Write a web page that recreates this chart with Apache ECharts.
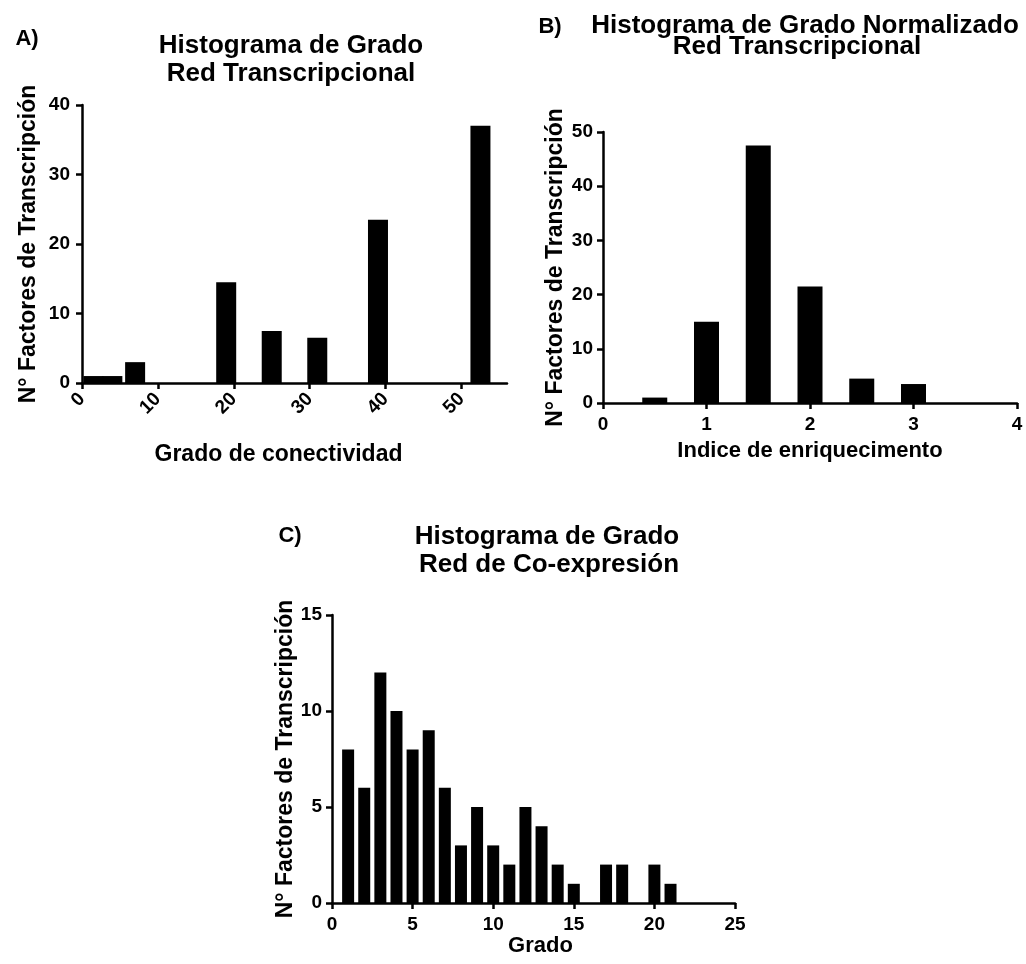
<!DOCTYPE html>
<html>
<head>
<meta charset="utf-8">
<script src="https://cdn.jsdelivr.net/npm/echarts@6/dist/echarts.min.js"></script>
<style>
  html, body { margin: 0; padding: 0; background: #ffffff; }
  #chart { width: 1026px; height: 964px; }
</style>
</head>
<body>
<div id="chart"></div>
<script>
const FONT = '"Liberation Sans", Arial, Helvetica, sans-serif';

// A) Histograma de grado, red transcripcional
const degreeBins   = [1.5, 4, 7, 19, 25, 31, 39, 52.5];
const degreeCounts = [1, 1, 3, 14.5, 7.5, 6.5, 23.5, 37];
const degreeTicks  = [0, 10, 20, 30, 40, 50];

// B) Histograma de grado normalizado, red transcripcional
const enrichBins   = [0.5, 1, 1.5, 2, 2.5, 3];
const enrichCounts = [1, 15, 47.5, 21.5, 4.5, 3.5];

// C) Histograma de grado, red de co-expresión
const coexpBins   = [1, 2, 3, 4, 5, 6, 7, 8, 9, 10, 11, 12, 13, 14, 15, 16, 17, 18, 19, 20, 21];
const coexpCounts = [8, 6, 12, 10, 8, 9, 6, 3, 5, 3, 2, 5, 4, 2, 1, 0, 2, 2, 0, 2, 1];

const yName = 'N° Factores de Transcripción';

const axisLine = { show: true, lineStyle: { color: '#000', width: 2.5 } };
const axisTick = { show: true, inside: false, length: 6, lineStyle: { color: '#000', width: 2.5 } };
function labelStyle(size) {
  return { color: '#000', fontFamily: FONT, fontWeight: 'bold', fontSize: size };
}
function nameStyle(size, padding) {
  const s = { color: '#000', fontFamily: FONT, fontWeight: 'bold', fontSize: size };
  if (padding) s.padding = padding;
  return s;
}
function pairs(xs, ys) { return xs.map((x, i) => [x, ys[i]]); }

function text(x, y, str, size) {
  return {
    type: 'text', x: x, y: y,
    style: {
      text: str, fill: '#000', textAlign: 'center', textVerticalAlign: 'middle',
      font: 'bold ' + size + 'px ' + FONT
    }
  };
}

const chart = echarts.init(document.getElementById('chart'));

chart.setOption({
  backgroundColor: '#ffffff',
  animation: false,
  graphic: [
    text(27, 39, 'A)', 22),
    text(291, 46, 'Histograma de Grado', 26),
    text(291, 74, 'Red Transcripcional', 26),
    text(550, 27, 'B)', 22),
    text(805, 26, 'Histograma de Grado Normalizado', 26),
    text(797, 47, 'Red Transcripcional', 26),
    text(290, 536, 'C)', 22),
    text(547, 537, 'Histograma de Grado', 26),
    text(549, 565, 'Red de Co-expresión', 26)
  ],
  grid: [
    { left: 82, right: 519, top: 105, bottom: 581 },
    { left: 603, right: 9, top: 132, bottom: 561 },
    { left: 332, right: 291, top: 615, bottom: 61 }
  ],
  xAxis: [
    {
      gridIndex: 0, type: 'value', min: 0, max: 56,
      name: 'Grado de conectividad', nameLocation: 'middle', nameGap: 60,
      nameTextStyle: nameStyle(23, [0, 32, 0, 0]),
      axisLine: axisLine,
      axisTick: Object.assign({}, axisTick, { customValues: degreeTicks }),
      axisLabel: Object.assign(labelStyle(19), { customValues: degreeTicks, rotate: 45, margin: 13 }),
      splitLine: { show: false }
    },
    {
      gridIndex: 1, type: 'value', min: 0, max: 4, interval: 1,
      name: 'Indice de enriquecimento', nameLocation: 'middle', nameGap: 37,
      nameTextStyle: nameStyle(22),
      axisLine: axisLine, axisTick: axisTick,
      axisLabel: Object.assign(labelStyle(19), { margin: 12 }),
      splitLine: { show: false }
    },
    {
      gridIndex: 2, type: 'value', min: 0, max: 25, interval: 5,
      name: 'Grado', nameLocation: 'middle', nameGap: 28,
      nameTextStyle: nameStyle(22, [0, 0, 0, 14]),
      axisLine: axisLine, axisTick: axisTick,
      axisLabel: Object.assign(labelStyle(19), { margin: 12 }),
      splitLine: { show: false }
    }
  ],
  yAxis: [
    {
      gridIndex: 0, type: 'value', min: 0, max: 40, interval: 10,
      name: yName, nameLocation: 'middle', nameGap: 42,
      nameTextStyle: nameStyle(23),
      axisLine: axisLine, axisTick: axisTick,
      axisLabel: Object.assign(labelStyle(19), { margin: 12 }),
      splitLine: { show: false }
    },
    {
      gridIndex: 1, type: 'value', min: 0, max: 50, interval: 10,
      name: yName, nameLocation: 'middle', nameGap: 36,
      nameTextStyle: nameStyle(23),
      axisLine: axisLine, axisTick: axisTick,
      axisLabel: Object.assign(labelStyle(19), { margin: 10 }),
      splitLine: { show: false }
    },
    {
      gridIndex: 2, type: 'value', min: 0, max: 15, interval: 5,
      name: yName, nameLocation: 'middle', nameGap: 35,
      nameTextStyle: nameStyle(23),
      axisLine: axisLine, axisTick: axisTick,
      axisLabel: Object.assign(labelStyle(19), { margin: 10 }),
      splitLine: { show: false }
    }
  ],
  series: [
    {
      type: 'bar', xAxisIndex: 0, yAxisIndex: 0, barWidth: 20,
      itemStyle: { color: '#000' }, data: pairs(degreeBins, degreeCounts)
    },
    {
      type: 'bar', xAxisIndex: 1, yAxisIndex: 1, barWidth: 25,
      itemStyle: { color: '#000' }, data: pairs(enrichBins, enrichCounts)
    },
    {
      type: 'bar', xAxisIndex: 2, yAxisIndex: 2, barWidth: 12,
      itemStyle: { color: '#000' }, data: pairs(coexpBins, coexpCounts)
    }
  ]
});
</script>
</body>
</html>
